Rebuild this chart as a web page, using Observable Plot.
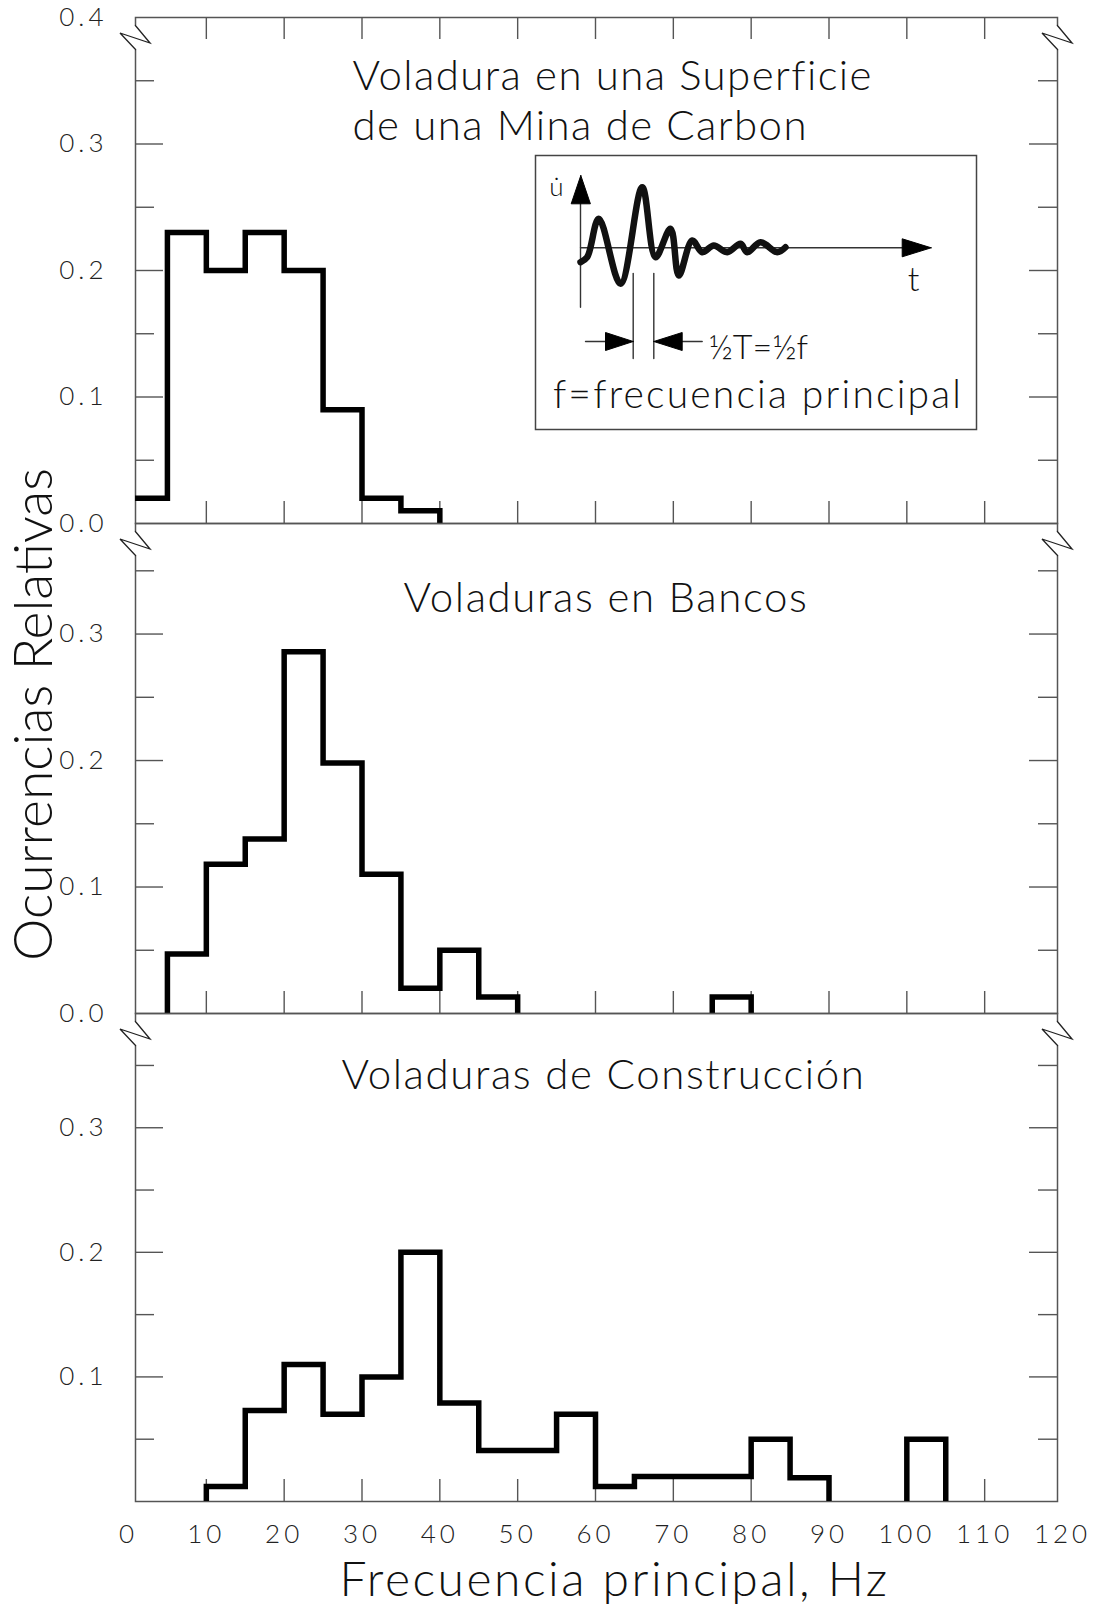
<!DOCTYPE html>
<html><head><meta charset="utf-8">
<script src="https://cdn.jsdelivr.net/npm/d3@7"></script>
<script src="https://cdn.jsdelivr.net/npm/@observablehq/plot@0.6"></script>
<style>
body{margin:0;background:#fff;}
#wrap{position:relative;width:1102px;height:1612px;overflow:hidden;background:#fff;}
#wrap svg{display:block;overflow:visible;}
#inset{position:absolute;left:534px;top:154px;}
</style></head><body><div id="wrap"></div>
<script>
// ---------- data ----------
const binWidth = 5;
const binStarts = [0,5,10,15,20,25,30,35,40,45,50,55,60,65,70,75,80,85,90,95,100,105,110,115];
const surfaceMine  = [0.02,0.23,0.20,0.23,0.20,0.09,0.02,0.01,0,0,0,0,0,0,0,0,0,0,0,0,0,0,0,0];
const benchBlasts  = [0,0.047,0.118,0.138,0.286,0.198,0.11,0.02,0.05,0.013,0,0,0,0,0,0.013,0,0,0,0,0,0,0,0];
const construction = [0,0,0.012,0.073,0.11,0.07,0.10,0.20,0.079,0.041,0.041,0.07,0.012,0.02,0.02,0.02,0.05,0.019,0,0,0.05,0,0,0];
const xTickValues = [10,20,30,40,50,60,70,80,90,100,110];
const xTickLabels = [0,10,20,30,40,50,60,70,80,90,100,110,120];
const yMajor = [0.1,0.2,0.3];
const yMinor = [0.05,0.15,0.25,0.35];
const yLabels1 = [0,0.1,0.2,0.3,0.4];
const yLabels2 = [0,0.1,0.2,0.3];
const yLabels3 = [0.1,0.2,0.3];
const title1a = "Voladura en una Superficie";
const title1b = "de una Mina de Carbon";
const title2 = "Voladuras en Bancos";
const title3 = "Voladuras de Construcción";
const xTitle = "Frecuencia principal, Hz";
const yTitle = "Ocurrencias Relativas";

// inset sketch (arbitrary t / u units)
const insetWave = [
  {t:0,u:-1.44},{t:0.67,u:-0.94},{t:1.83,u:2.9},{t:4.0,u:-3.6},{t:6.17,u:6.06},
  {t:7.5,u:-0.94},{t:9.0,u:1.9},{t:9.83,u:-2.77},{t:11.17,u:0.73},{t:12.17,u:-0.44},
  {t:13.33,u:0.23},{t:14.67,u:-0.44},{t:16.0,u:0.4},{t:16.67,u:-0.44},{t:18.0,u:0.56},
  {t:19.67,u:-0.44},{t:20.5,u:0.06}
];
const insetGuides = [
  {id:"uaxis",t:0,u:-5.94},{id:"uaxis",t:0,u:4.4},
  {id:"taxis",t:0,u:0},{id:"taxis",t:32.2,u:0},
  {id:"d1",t:5.27,u:-2.57},{id:"d1",t:5.27,u:-11.07},
  {id:"d2",t:7.33,u:-2.57},{id:"d2",t:7.33,u:-11.07},
  {id:"a1",t:0.5,u:-9.37},{id:"a1",t:2.5,u:-9.37},
  {id:"a2",t:10.17,u:-9.37},{id:"a2",t:12.17,u:-9.37}
];
const insetHeads = [
  {id:"hu",t:0.03,u:7.23},{id:"hu",t:-0.93,u:4.4},{id:"hu",t:0.99,u:4.4},{id:"hu",t:0.03,u:7.23},
  {id:"ht",t:35.07,u:0},{id:"ht",t:32.17,u:0.9},{id:"ht",t:32.17,u:-0.9},{id:"ht",t:35.07,u:0},
  {id:"h1",t:5.27,u:-9.37},{id:"h1",t:2.5,u:-8.47},{id:"h1",t:2.5,u:-10.27},{id:"h1",t:5.27,u:-9.37},
  {id:"h2",t:7.33,u:-9.37},{id:"h2",t:10.17,u:-8.47},{id:"h2",t:10.17,u:-10.27},{id:"h2",t:7.33,u:-9.37}
];
const insetLabels = [
  {text:"u̇", t:-2.4, u:6.0, size:26, anchor:"middle", spacing:0},
  {text:"t", t:33.3, u:-3.2, size:34, anchor:"middle", spacing:0},
  {text:"½T=½f", t:12.8, u:-10.0, size:34, anchor:"start", spacing:0},
  {text:"f=frecuencia principal", t:17.75, u:-14.8, size:39, anchor:"middle", spacing:2.2}
];

// ---------- helpers ----------
const FONT = "Lato, 'Open Sans', 'DejaVu Sans', sans-serif";
const AXC = "#555";
const W = 1102, ML = 135, MR = 45;
const innerW = W - ML - MR;

function steps(values) {
  const out = [];
  let run = -1;
  values.forEach((v, i) => {
    const x0 = binStarts[i], x1 = x0 + binWidth;
    if (v > 0) {
      if (i === 0 || values[i-1] === 0) { run++; out.push({x:x0, y:0, run}); }
      out.push({x:x0, y:v, run}, {x:x1, y:v, run});
      if (i === values.length - 1 || values[i+1] === 0) out.push({x:x1, y:0, run});
    }
  });
  return out;
}

function styleText(svg, content, fn) {
  d3.select(svg).selectAll("text").filter(function() { return this.textContent === content; }).each(function() { fn(d3.select(this)); });
}

function breakMark(index, scales, values, dim) {
  const g = d3.create("svg:g");
  const y0 = dim.marginTop;
  for (const X of [dim.marginLeft, dim.width - dim.marginRight]) {
    g.append("line").attr("x1", X).attr("x2", X).attr("y1", y0 + 8).attr("y2", y0 + 33)
      .attr("stroke", "white").attr("stroke-width", 4);
    g.append("path").attr("d", `M${X},${y0+8}L${X+15},${y0+26}L${X-15},${y0+16}L${X+1},${y0+33}`)
      .attr("fill", "none").attr("stroke", "#222").attr("stroke-width", 1.3);
  }
  return g.node();
}

function panel({values, height, marginTop, marginBottom, yDomain, yLabels, topTicks, titles, xAxis, extra = []}) {
  const innerH = height - marginTop - marginBottom;
  const marks = [
    Plot.frame({stroke: AXC, strokeWidth: 1.5}),
    Plot.tickY(yMajor, {y: d => d, insetRight: innerW - 28, stroke: AXC, strokeWidth: 1.4}),
    Plot.tickY(yMajor, {y: d => d, insetLeft: innerW - 28, stroke: AXC, strokeWidth: 1.4}),
    Plot.tickY(yMinor, {y: d => d, insetRight: innerW - 19, stroke: AXC, strokeWidth: 1.4}),
    Plot.tickY(yMinor, {y: d => d, insetLeft: innerW - 19, stroke: AXC, strokeWidth: 1.4}),
    Plot.tickX(xTickValues, {x: d => d, insetTop: innerH - 22, stroke: AXC, strokeWidth: 1.4}),
    breakMark,
    Plot.axisY(yLabels, {anchor: "left", tickSize: 0, tickPadding: 28, tickFormat: d3.format(".1f"),
      fontSize: 26, fill: "#222", label: null}),
    Plot.line(steps(values), {x: "x", y: "y", z: "run", stroke: "black", strokeWidth: 5.5,
      strokeLinejoin: "miter", strokeLinecap: "butt", strokeMiterlimit: 4, clip: true}),
    ...titles.map(t => Plot.text([t.text], {frameAnchor: "top-left", dx: t.dx, dy: t.dy,
      textAnchor: t.anchor, lineAnchor: "middle", fontSize: 42, fill: "#111", fontWeight: 300})),
    ...extra
  ];
  if (topTicks) marks.push(Plot.tickX(xTickValues, {x: d => d, insetBottom: innerH - 22, stroke: AXC, strokeWidth: 1.4}));
  const svg = Plot.plot({
    width: W, height, marginLeft: ML, marginRight: MR, marginTop, marginBottom,
    x: xAxis ? {domain: [0, 120], range: [128, 1062]} : {domain: [0, 120], range: [128, 1062], axis: null},
    y: {domain: yDomain},
    style: {background: "transparent", overflow: "visible", fontFamily: FONT},
    marks
  });
  const s = d3.select(svg);
  s.selectAll('g[aria-label="y-axis tick label"] text, g[aria-label="x-axis tick label"] text')
    .style("letter-spacing", "4px").attr("font-weight", 300);
  for (const t of titles) styleText(svg, t.text, e => e.style("letter-spacing", t.spacing + "px"));
  styleText(svg, yTitle, e => e.attr("textLength", 493).attr("lengthAdjust", "spacingAndGlyphs"));
  styleText(svg, xTitle, e => e.style("letter-spacing", "2.5px"));
  return svg;
}

const wrap = document.getElementById("wrap");

wrap.append(panel({
  values: surfaceMine, height: 523, marginTop: 17, marginBottom: 0,
  yDomain: [0, 0.4], yLabels: yLabels1, topTicks: true, xAxis: false,
  titles: [
    {text: title1a, dx: 217, dy: 59, anchor: "start", spacing: 1.4},
    {text: title1b, dx: 217, dy: 109.5, anchor: "start", spacing: 1.4}
  ]
}));

wrap.append(panel({
  values: benchBlasts, height: 490, marginTop: 0, marginBottom: 0,
  yDomain: [0, 0.3874], yLabels: yLabels2, topTicks: false, xAxis: false,
  titles: [{text: title2, dx: 470.5, dy: 75.3, anchor: "middle", spacing: 1.6}],
  extra: [
    Plot.text([yTitle], {frameAnchor: "top-left", dx: -101, dy: 191, rotate: -90, textAnchor: "middle",
      lineAnchor: "middle", fontSize: 54, fontWeight: 300, fill: "#111"})
  ]
}));

wrap.append(panel({
  values: construction, height: 599, marginTop: 0, marginBottom: 111,
  yDomain: [0, 0.3917], yLabels: yLabels3, topTicks: false, xAxis: true,
  titles: [{text: title3, dx: 468, dy: 62.2, anchor: "middle", spacing: 1.6}],
  extra: [
    Plot.axisX(xTickLabels, {anchor: "bottom", tickSize: 0, tickPadding: 23, fontSize: 26, fill: "#222", label: null}),
    Plot.text([xTitle], {frameAnchor: "bottom", dx: 18, dy: 79, textAnchor: "middle", lineAnchor: "middle",
      fontSize: 48, fontWeight: 300, fill: "#111"})
  ]
}));

// inset sketch
const inset = Plot.plot({
  width: 443, height: 276, margin: 1,
  x: {domain: [-4.5, 39.6], axis: null},
  y: {domain: [-18.17, 9.23], axis: null},
  style: {background: "transparent", overflow: "visible", fontFamily: FONT},
  marks: [
    Plot.frame({stroke: "#444", strokeWidth: 1.5}),
    Plot.line(insetGuides, {x: "t", y: "u", z: "id", stroke: "#333", strokeWidth: 1.4}),
    Plot.line(insetHeads, {x: "t", y: "u", z: "id", fill: "black", stroke: "black", strokeWidth: 1}),
    Plot.line(insetWave, {x: "t", y: "u", curve: "catmull-rom", stroke: "#111", strokeWidth: 6.5}),
    ...insetLabels.map(l => Plot.text([l], {x: "t", y: "u", text: "text", fontSize: l.size,
      textAnchor: l.anchor, lineAnchor: "middle", fontWeight: 300, fill: "#111"}))
  ]
});
for (const l of insetLabels) if (l.spacing) styleText(inset, l.text, e => e.style("letter-spacing", l.spacing + "px"));
inset.id = "inset";
wrap.append(inset);
</script></body></html>
